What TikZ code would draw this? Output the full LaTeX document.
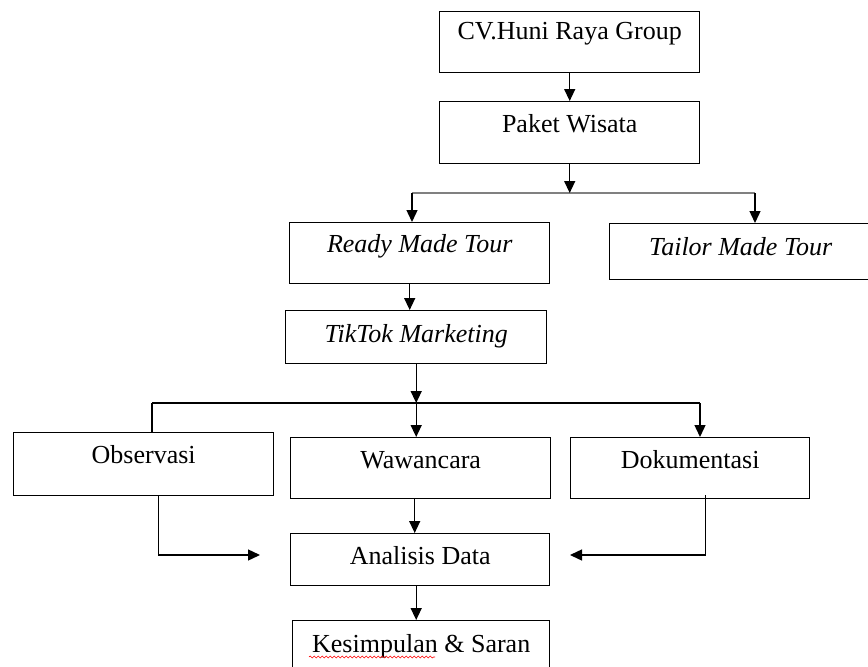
\documentclass[tikz,border=0pt]{standalone}
\usepackage{fontspec}
\setmainfont{Liberation Serif}
\usetikzlibrary{arrows.meta,decorations.pathmorphing}

\begin{document}
\begin{tikzpicture}[x=1pt,y=-1pt]
\useasboundingbox (0,0) rectangle (868,667);

\begin{scope}[every node/.style={draw,line width=1.4pt,inner sep=0pt,anchor=north west,
              minimum width=260pt,text height=31pt,text depth=31pt,
              font=\fontsize{26}{29}\selectfont}]
	\node (cv) at (439,11) [text height=28pt,text depth=33pt] {CV.Huni Raya Group};
	\node (paket) at (439,101) {Paket Wisata};
	\node (ready) at (289,222) [text height=30pt] {\itshape Ready Made Tour};
	\node (tailor) at (609,223) [minimum width=262pt,text height=32pt,text depth=24pt] {\itshape Tailor Made Tour};
	\node (tiktok) at (285,310) [minimum width=261pt,text height=32pt,text depth=21pt] {\itshape TikTok Marketing};
	\node (obs) at (13,432) [text depth=32pt] {Observasi};
	\node (waw) at (290,437) [text depth=30pt] {Wawancara};
	\node (dok) at (570,437) [minimum width=239pt,text depth=30pt] {Dokumentasi};
	\node (ana) at (290,533) [minimum width=259pt,text depth=21pt] {Analisis Data};
	\node (kes) at (292,620) [minimum width=257pt,text height=32pt] {Kesimpulan \& Saran};
\end{scope}

% titik cabang
\coordinate (kiri1) at (412,193);
\coordinate (kanan1) at (755,193);
\coordinate (kiri2) at (152,403);
\coordinate (kanan2) at (700,403);
\coordinate (masuk1) at (260,555);
\coordinate (masuk2) at (570,555);

\draw [gray,line width=2.2pt] (kiri1) -- (kanan1);
\draw [line width=1.4pt] (kiri2) -- (kanan2);
\draw [line width=1.4pt] (kiri2) -- (kiri2 |- obs.north);

\begin{scope}[>={Triangle[width=11pt,length=12pt]},
              every edge/.style={draw=black,line width=1.4pt}]
	\path [->] (cv) edge (paket);
	\path [->] (paket.south) edge (paket.south |- kiri1);
	\path [->] (kiri1) edge (kiri1 |- ready.north);
	\path [->] (kanan1) edge (kanan1 |- tailor.north);
	\path [->] ([xshift=-10pt]ready.south) edge ([xshift=-10pt]ready.south |- tiktok.north);
	\path [->] (tiktok.south) edge (tiktok.south |- kiri2);
	\path [->] (tiktok.south |- kiri2) edge (tiktok.south |- waw.north);
	\path [->] (kanan2) edge (kanan2 |- dok.north);
	\path [->] ([xshift=-6pt]waw.south) edge ([xshift=-6pt]waw.south |- ana.north);
	\path [->] ([xshift=-4pt]ana.south) edge ([xshift=-4pt]ana.south |- kes.north);
	\draw [->,line width=1.4pt] ([xshift=15pt]obs.south) |- (masuk1);
	\draw [->,line width=1.4pt] ([xshift=15pt,yshift=4pt]dok.south) |- (masuk2);
\end{scope}

% garis ejaan merah
\draw [red,line width=0.6pt,decorate,decoration={snake,amplitude=1pt,segment length=4pt}]
	(309,657) -- (435,657);
\end{tikzpicture}
\end{document}
